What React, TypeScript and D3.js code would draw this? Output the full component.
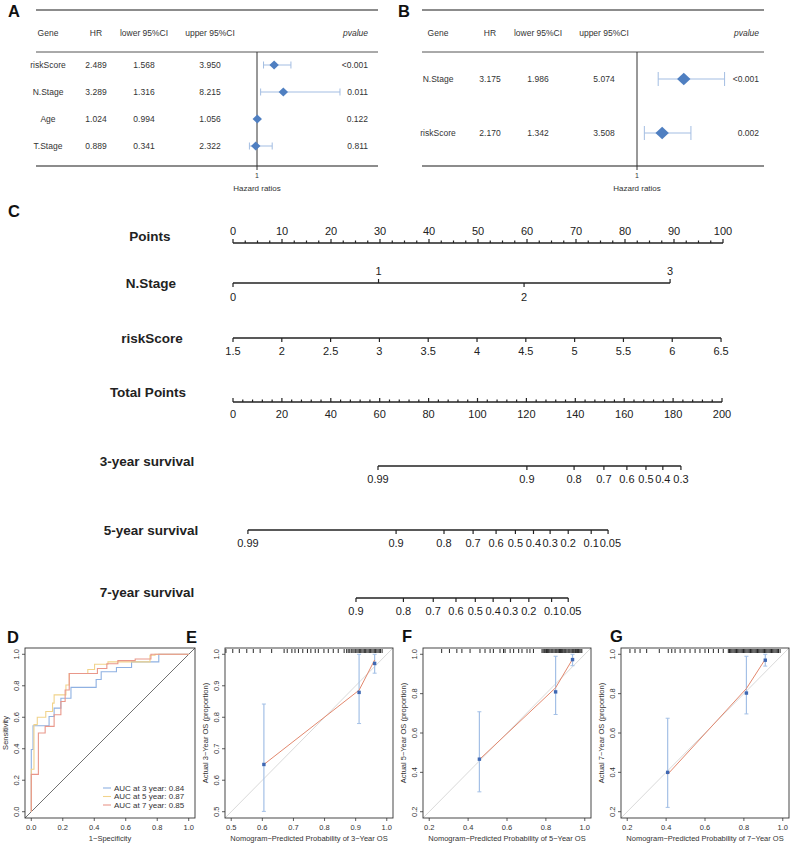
import React from "react";
import * as d3 from "d3";

const W = 794;
const H = 847;
const FONT = "Arial, 'Liberation Sans', Helvetica, sans-serif";
const INK = "#222";

// ---- A: univariate Cox ----
const aGenes = ["riskScore", "N.Stage", "Age", "T.Stage"];
const aHR = [2.489, 3.289, 1.024, 0.889];
const aLower = [1.568, 1.316, 0.994, 0.341];
const aUpper = [3.95, 8.215, 1.056, 2.322];
const aPval = ["<0.001", "0.011", "0.122", "0.811"];

// ---- B: multivariate Cox ----
const bGenes = ["N.Stage", "riskScore"];
const bHR = [3.175, 2.17];
const bLower = [1.986, 1.342];
const bUpper = [5.074, 3.508];
const bPval = ["<0.001", "0.002"];

// ---- C: nomogram ----
const nStageLevels = [0, 1, 2, 3];
const nStagePoints = [0, 29.7, 59.4, 89.2];
const riskScoreTicks = [1.5, 2, 2.5, 3, 3.5, 4, 4.5, 5, 5.5, 6, 6.5];
const riskScoreMaxPoints = 99.6;
const surv3Probs = [0.99, 0.9, 0.8, 0.7, 0.6, 0.5, 0.4, 0.3];
const surv3Total = [59.3, 120.2, 139.5, 151.7, 161.1, 168.9, 175.8, 183.2];
const surv5Probs = [0.99, 0.9, 0.8, 0.7, 0.6, 0.5, 0.4, 0.3, 0.2, 0.1, 0.05];
const surv5Total = [6.1, 66.7, 86.3, 98.2, 107.6, 115.5, 122.9, 129.7, 137.1, 146.5, 153.4];
const surv7Probs = [0.9, 0.8, 0.7, 0.6, 0.5, 0.4, 0.3, 0.2, 0.1, 0.05];
const surv7Total = [50.3, 69.7, 81.9, 91.2, 99.1, 106.4, 113.5, 121, 130.3, 137.1];

// ---- D: time-dependent ROC (fpr, tpr at each jump) ----
const roc3 = [[0, 0], [0, 0.395], [0.011, 0.546], [0.113, 0.605], [0.145, 0.658], [0.188, 0.721], [0.252, 0.79], [0.412, 0.84], [0.444, 0.889], [0.541, 0.916], [0.637, 0.952], [0.81, 1], [1, 1]];
const roc5 = [[0, 0], [0, 0.27], [0.017, 0.553], [0.038, 0.6], [0.092, 0.637], [0.135, 0.69], [0.145, 0.742], [0.22, 0.805], [0.241, 0.878], [0.359, 0.903], [0.402, 0.937], [0.487, 0.952], [0.754, 0.994], [0.786, 1], [1, 1]];
const roc7 = [[0, 0], [0, 0.237], [0.045, 0.5], [0.088, 0.542], [0.145, 0.616], [0.188, 0.7], [0.215, 0.773], [0.241, 0.878], [0.42, 0.91], [0.48, 0.94], [0.55, 0.96], [0.66, 0.97], [0.76, 1], [1, 1]];
const rocLegend = ["AUC at 3 year: 0.84", "AUC at 5 year: 0.87", "AUC at 7 year: 0.85"];

// ---- E/F/G: calibration ----
const cal3Pred = [0.605, 0.911, 0.961];
const cal3Obs = [0.65, 0.879, 0.971];
const cal3Lo = [0.501, 0.78, 0.94];
const cal3Hi = [0.842, 1.0, 1.0];
const cal3Fit = [0.65, 0.886, 0.982];
const cal3Rug = [0.483, 0.505, 0.526, 0.55, 0.571, 0.593, 0.63, 0.67, 0.68, 0.695, 0.705, 0.716, 0.73, 0.745, 0.756, 0.77, 0.78, 0.798, 0.812, 0.828, 0.844, 0.863, 0.871, 0.876, 0.881, 0.886, 0.891, 0.895, 0.9, 0.904, 0.908, 0.912, 0.916, 0.92, 0.924, 0.928, 0.932, 0.936, 0.94, 0.944, 0.948, 0.952, 0.956, 0.96, 0.964, 0.968, 0.972, 0.976, 0.98, 0.985];

const cal5Pred = [0.458, 0.85, 0.937];
const cal5Obs = [0.467, 0.809, 0.973];
const cal5Lo = [0.301, 0.694, 0.942];
const cal5Hi = [0.708, 0.99, 1.0];
const cal5Fit = [0.465, 0.83, 0.975];
const cal5Rug = [0.264, 0.304, 0.342, 0.368, 0.41, 0.461, 0.487, 0.513, 0.53, 0.564, 0.582, 0.59, 0.616, 0.634, 0.66, 0.677, 0.703, 0.718, 0.736, 0.78, 0.786, 0.792, 0.797, 0.803, 0.808, 0.814, 0.82, 0.826, 0.831, 0.836, 0.842, 0.848, 0.853, 0.858, 0.864, 0.87, 0.875, 0.88, 0.886, 0.892, 0.897, 0.902, 0.908, 0.914, 0.919, 0.924, 0.93, 0.936, 0.941, 0.946, 0.952, 0.958, 0.963, 0.968, 0.974, 0.98, 0.985];

const cal7Pred = [0.408, 0.813, 0.91];
const cal7Obs = [0.4, 0.803, 0.97];
const cal7Lo = [0.222, 0.697, 0.94];
const cal7Hi = [0.675, 0.99, 1.0];
const cal7Fit = [0.39, 0.826, 0.975];
const cal7Rug = [0.214, 0.24, 0.266, 0.3, 0.365, 0.411, 0.429, 0.446, 0.472, 0.497, 0.523, 0.549, 0.574, 0.6, 0.618, 0.643, 0.669, 0.694, 0.72, 0.726, 0.732, 0.738, 0.744, 0.75, 0.756, 0.762, 0.768, 0.774, 0.78, 0.786, 0.792, 0.798, 0.804, 0.81, 0.816, 0.822, 0.828, 0.834, 0.84, 0.846, 0.852, 0.858, 0.864, 0.87, 0.876, 0.882, 0.888, 0.894, 0.9, 0.906, 0.912, 0.918, 0.924, 0.93, 0.936, 0.942, 0.948, 0.954, 0.96, 0.966, 0.972, 0.978, 0.986];

const calTicksE = [0.5, 0.6, 0.7, 0.8, 0.9, 1.0];
const calTicksFG = [0.2, 0.4, 0.6, 0.8, 1.0];

const f3 = d3.format(".3f");
const f1 = d3.format(".1f");
const TICK_FS = 11;

// rough Arial advance widths, used only to keep crowded nomogram labels from colliding
const textWidth = (s, fs) => Array.from(s).reduce((w, c) => w + (c === "." ? 0.278 : 0.556), 0) * fs;

function Forest({ genes, hr, lo, hi, pv, left, right, cols, xDomain, xRange, rowRange, dw, dh, cap }) {
  const x = d3.scaleLinear().domain(xDomain).range(xRange);
  const y = d3.scalePoint().domain(genes).range(rowRange);
  const t = { fontSize: 8.5, fill: "#333", dominantBaseline: "central" };
  const x1 = x(1);
  return (
    <g>
      <line x1={left} x2={right} y1={10} y2={10} stroke="#666" strokeWidth={1.3} />
      <text x={cols.gene} y={33} textAnchor="middle" {...t}>Gene</text>
      <text x={cols.hr} y={33} textAnchor="middle" {...t}>HR</text>
      <text x={cols.lo} y={33} textAnchor="middle" {...t}>lower 95%CI</text>
      <text x={cols.hi} y={33} textAnchor="middle" {...t}>upper 95%CI</text>
      <text x={cols.p} y={33} textAnchor="end" fontStyle="italic" {...t}>pvalue</text>
      <line x1={left} x2={right} y1={52} y2={52} stroke="#555" strokeWidth={1} />
      <line x1={left} x2={right} y1={166} y2={166} stroke="#666" strokeWidth={1.3} />
      <line x1={x1} x2={x1} y1={52} y2={170} stroke="#333" strokeWidth={1} />
      <text x={x1} y={175} textAnchor="middle" dominantBaseline="central" fontSize={7} fill="#333">1</text>
      <text x={x1} y={188} textAnchor="middle" dominantBaseline="central" fontSize={8} fill="#333">Hazard ratios</text>
      {genes.map((g, i) => {
        const yy = y(g);
        const cx = x(hr[i]);
        return (
          <g key={g}>
            <text x={cols.gene} y={yy} textAnchor="middle" {...t}>{g}</text>
            <text x={cols.hr} y={yy} textAnchor="middle" {...t}>{f3(hr[i])}</text>
            <text x={cols.lo} y={yy} textAnchor="middle" {...t}>{f3(lo[i])}</text>
            <text x={cols.hi} y={yy} textAnchor="middle" {...t}>{f3(hi[i])}</text>
            <text x={cols.p} y={yy} textAnchor="end" {...t}>{pv[i]}</text>
            <line x1={x(lo[i])} x2={x(hi[i])} y1={yy} y2={yy} stroke="#a3bde2" strokeWidth={1} />
            <line x1={x(lo[i])} x2={x(lo[i])} y1={yy - cap} y2={yy + cap} stroke="#a3bde2" strokeWidth={1} />
            <line x1={x(hi[i])} x2={x(hi[i])} y1={yy - cap} y2={yy + cap} stroke="#a3bde2" strokeWidth={1} />
            <path d={`M${cx - dw},${yy}L${cx},${yy - dh}L${cx + dw},${yy}L${cx},${yy + dh}Z`} fill="#4f7fc1" />
          </g>
        );
      })}
    </g>
  );
}

function NomoAxis({ y, x0, x1, ticks }) {
  // push a label right when it would run into the previous one on the same side
  const lastRight = {};
  const placed = ticks.map((t) => {
    if (t.label == null) return null;
    const w = textWidth(t.label, TICK_FS);
    const prev = lastRight[t.ly];
    const cx = prev != null ? Math.max(t.x, prev + 0.8 + w / 2) : t.x;
    lastRight[t.ly] = cx + w / 2;
    return cx;
  });
  return (
    <g>
      <line x1={x0} x2={x1} y1={y} y2={y} stroke={INK} strokeWidth={1.3} />
      {ticks.map((t, i) => (
        <g key={i}>
          <line x1={t.x} x2={t.x} y1={y} y2={y + t.dir * t.len} stroke={INK} strokeWidth={1.2} />
          {t.label != null && (
            <text x={placed[i]} y={t.ly} textAnchor="middle" dominantBaseline="central" fontSize={TICK_FS} fill={INK}>{t.label}</text>
          )}
        </g>
      ))}
    </g>
  );
}

function Nomogram() {
  const pts = d3.scaleLinear().domain([0, 100]).range([233, 723]);
  const tot = d3.scaleLinear().domain([0, 200]).range([233, 722]);
  const rs = d3.scaleLinear().domain([1.5, 6.5]).range([pts(0), pts(riskScoreMaxPoints)]);
  const rowLabel = { fontSize: 13.5, fontWeight: "bold", fill: INK, textAnchor: "middle", dominantBaseline: "central" };

  const pointTicks = d3.range(0, 100.001, 2.5).map((v) => {
    const major = Math.abs(v % 10) < 1e-6;
    return { x: pts(v), dir: -1, len: major ? 4 : 2.5, label: major ? String(v) : null, ly: 231 };
  });
  const nTicks = nStageLevels.map((lv, i) => ({
    x: pts(nStagePoints[i]),
    dir: i % 2 === 1 ? -1 : 1,
    len: 4,
    label: String(lv),
    ly: i % 2 === 1 ? 271 : 297,
  }));
  const rsTicks = riskScoreTicks.map((v) => ({ x: rs(v), dir: 1, len: 4, label: String(v), ly: 351 }));
  const totTicks = d3.range(0, 200.001, 4).map((v) => {
    const major = Math.abs(v % 20) < 1e-6;
    return { x: tot(v), dir: -1, len: major ? 4 : 2.5, label: major ? String(v) : null, ly: 414 };
  });
  const survTicks = (probs, total, ly) => probs.map((p, i) => ({ x: tot(total[i]), dir: 1, len: 4, label: String(p), ly }));
  const s3 = survTicks(surv3Probs, surv3Total, 479);
  const s5 = survTicks(surv5Probs, surv5Total, 543);
  const s7 = survTicks(surv7Probs, surv7Total, 611);

  return (
    <g>
      <text x={150} y={236} {...rowLabel}>Points</text>
      <NomoAxis y={243} x0={pts(0)} x1={pts(100)} ticks={pointTicks} />
      <text x={151} y={283} {...rowLabel}>N.Stage</text>
      <NomoAxis y={283} x0={nTicks[0].x} x1={nTicks[nTicks.length - 1].x} ticks={nTicks} />
      <text x={152} y={338} {...rowLabel}>riskScore</text>
      <NomoAxis y={338} x0={rs(1.5)} x1={rs(6.5)} ticks={rsTicks} />
      <text x={148} y={392} {...rowLabel}>Total Points</text>
      <NomoAxis y={402} x0={tot(0)} x1={tot(200)} ticks={totTicks} />
      <text x={147} y={461} {...rowLabel}>3-year survival</text>
      <NomoAxis y={466} x0={s3[0].x} x1={s3[s3.length - 1].x} ticks={s3} />
      <text x={151} y={530} {...rowLabel}>5-year survival</text>
      <NomoAxis y={530} x0={s5[0].x} x1={s5[s5.length - 1].x} ticks={s5} />
      <text x={147} y={592} {...rowLabel}>7-year survival</text>
      <NomoAxis y={598} x0={s7[0].x} x1={s7[s7.length - 1].x} ticks={s7} />
    </g>
  );
}

function Frame({ box, x, y, xTicks, yTicks, xTitle, yTitle, fmt }) {
  const fs = 7.5;
  return (
    <g>
      <rect x={box.l} y={box.t} width={box.r - box.l} height={box.b - box.t} fill="none" stroke="#333" strokeWidth={0.9} />
      {xTicks.map((v) => (
        <g key={"x" + v}>
          <line x1={x(v)} x2={x(v)} y1={box.b} y2={box.b + 3} stroke="#333" strokeWidth={0.8} />
          <text x={x(v)} y={box.b + 12} textAnchor="middle" fontSize={fs} fill="#333">{fmt(v)}</text>
        </g>
      ))}
      {yTicks.map((v) => (
        <g key={"y" + v}>
          <line x1={box.l} x2={box.l - 3} y1={y(v)} y2={y(v)} stroke="#333" strokeWidth={0.8} />
          <text transform={`translate(${box.l - 6.5},${y(v)}) rotate(-90)`} textAnchor="middle" fontSize={fs} fill="#333">{fmt(v)}</text>
        </g>
      ))}
      <text x={(box.l + box.r) / 2} y={box.b + 23} textAnchor="middle" fontSize={fs} fill="#333">{xTitle}</text>
      <text transform={`translate(${box.l - 17},${(box.t + box.b) / 2}) rotate(-90)`} textAnchor="middle" fontSize={fs} fill="#333">{yTitle}</text>
    </g>
  );
}

function Roc() {
  const box = { l: 25, r: 195, t: 648, b: 818 };
  const x = d3.scaleLinear().domain([-0.04, 1.04]).range([box.l, box.r]);
  const y = d3.scaleLinear().domain([-0.04, 1.04]).range([box.b, box.t]);
  const step = d3.line().x((d) => x(d[0])).y((d) => y(d[1])).curve(d3.curveStepAfter);
  const ticks = [0, 0.2, 0.4, 0.6, 0.8, 1.0];
  const colors = ["#8fb1e2", "#f1d38b", "#e9978a"];
  const series = [roc3, roc5, roc7];
  return (
    <g>
      <line x1={x(-0.04)} y1={y(-0.04)} x2={x(1.04)} y2={y(1.04)} stroke="#333" strokeWidth={0.7} />
      {series.map((s, i) => (
        <path key={i} d={step(s)} fill="none" stroke={colors[i]} strokeWidth={1.1} />
      ))}
      <Frame box={box} x={x} y={y} xTicks={ticks} yTicks={ticks} xTitle="1−Specificity" yTitle="Sensitivity" fmt={f1} />
      {rocLegend.map((t, i) => (
        <g key={t}>
          <line x1={103} x2={111} y1={788 + i * 8.5} y2={788 + i * 8.5} stroke={colors[i]} strokeWidth={1.1} />
          <text x={114} y={788 + i * 8.5} dominantBaseline="central" fontSize={8} fill="#333">{t}</text>
        </g>
      ))}
    </g>
  );
}

function Calib({ box, domain, ticks, pred, obs, lo, hi, fit, rug, year }) {
  const x = d3.scaleLinear().domain(domain).range([box.l, box.r]);
  const y = d3.scaleLinear().domain(domain).range([box.b, box.t]);
  const line = d3.line().x((d) => x(d[0])).y((d) => y(d[1]));
  const fitPts = pred.map((p, i) => [p, fit[i]]);
  return (
    <g>
      <line x1={x(domain[0])} y1={y(domain[0])} x2={x(domain[1])} y2={y(domain[1])} stroke="#d9d9d9" strokeWidth={1} />
      {rug.map((r, i) => (
        <line key={i} x1={x(r)} x2={x(r)} y1={box.t + 1} y2={box.t + 5} stroke="#111" strokeWidth={0.9} />
      ))}
      {pred.map((p, i) => (
        <g key={i}>
          <line x1={x(p)} x2={x(p)} y1={y(lo[i])} y2={y(hi[i])} stroke="#a4c0e6" strokeWidth={1.2} />
          <line x1={x(p) - 2} x2={x(p) + 2} y1={y(lo[i])} y2={y(lo[i])} stroke="#a4c0e6" strokeWidth={1} />
          <line x1={x(p) - 2} x2={x(p) + 2} y1={y(hi[i])} y2={y(hi[i])} stroke="#a4c0e6" strokeWidth={1} />
        </g>
      ))}
      <path d={line(fitPts)} fill="none" stroke="#e2886e" strokeWidth={1} />
      {pred.map((p, i) => (
        <rect key={i} x={x(p) - 1.7} y={y(obs[i]) - 1.7} width={3.4} height={3.4} fill="#3f68b3" />
      ))}
      <Frame box={box} x={x} y={y} xTicks={ticks} yTicks={ticks}
        xTitle={`Nomogram−Predicted Probability of ${year}−Year OS`}
        yTitle={`Actual ${year}−Year OS (proportion)`} fmt={f1} />
    </g>
  );
}

const Letter = ({ x, y, t }) => (
  <text x={x} y={y} fontSize={16.5} fontWeight="bold" fill="#111">{t}</text>
);

const App = () => (
  <svg width={W} height={H} viewBox={`0 0 ${W} ${H}`} fontFamily={FONT}
    style={{ position: "absolute", left: 0, top: 0, background: "#fff" }}>
    <rect width={W} height={H} fill="#fff" />
    <Forest genes={aGenes} hr={aHR} lo={aLower} hi={aUpper} pv={aPval}
      left={36} right={378} cols={{ gene: 48, hr: 96, lo: 144, hi: 210, p: 368 }}
      xDomain={[0, 9]} xRange={[245.5, 349]} rowRange={[65, 146]} dw={4.7} dh={4.5} cap={3.5} />
    <Forest genes={bGenes} hr={bHR} lo={bLower} hi={bUpper} pv={bPval}
      left={422} right={764} cols={{ gene: 438, hr: 490, lo: 538, hi: 604, p: 759 }}
      xDomain={[0, 5.5]} xRange={[615.5, 733.75]} rowRange={[79, 133]} dw={6.7} dh={6.2} cap={7} />
    <Nomogram />
    <Roc />
    <Calib box={{ l: 225, r: 393, t: 648, b: 818 }} domain={[0.48, 1.02]} ticks={calTicksE}
      pred={cal3Pred} obs={cal3Obs} lo={cal3Lo} hi={cal3Hi} fit={cal3Fit} rug={cal3Rug} year={3} />
    <Calib box={{ l: 423, r: 591, t: 648, b: 818 }} domain={[0.168, 1.032]} ticks={calTicksFG}
      pred={cal5Pred} obs={cal5Obs} lo={cal5Lo} hi={cal5Hi} fit={cal5Fit} rug={cal5Rug} year={5} />
    <Calib box={{ l: 621, r: 789, t: 648, b: 818 }} domain={[0.168, 1.032]} ticks={calTicksFG}
      pred={cal7Pred} obs={cal7Obs} lo={cal7Lo} hi={cal7Hi} fit={cal7Fit} rug={cal7Rug} year={7} />
    <Letter x={8} y={17} t="A" />
    <Letter x={398} y={17} t="B" />
    <Letter x={8} y={217} t="C" />
    <Letter x={7} y={643} t="D" />
    <Letter x={186} y={643} t="E" />
    <Letter x={402} y={642} t="F" />
    <Letter x={610} y={642} t="G" />
  </svg>
);

export default App;
